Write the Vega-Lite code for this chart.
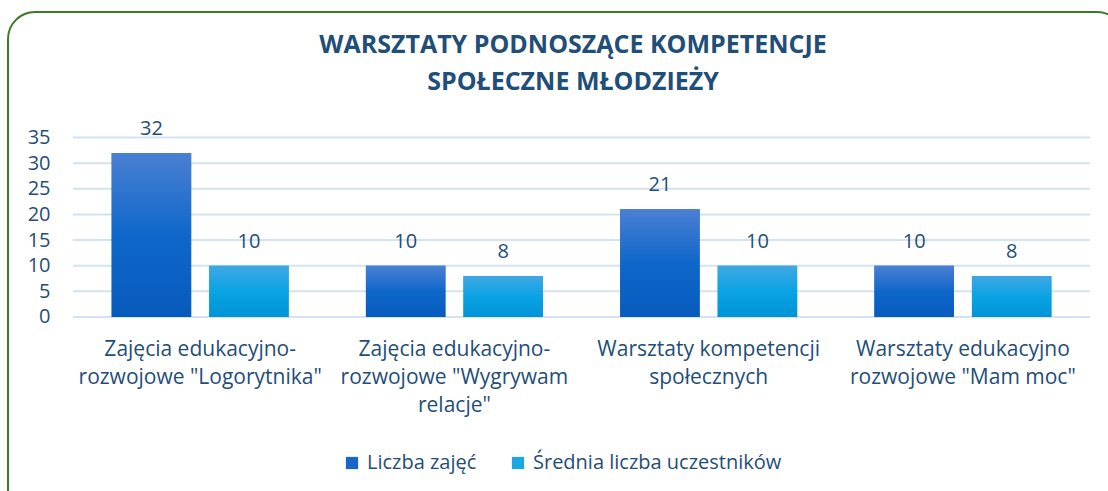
{
  "$schema": "https://vega.github.io/schema/vega-lite/v6.json",
  "autosize": {"type": "none"},
  "padding": {"left": 8, "top": 12, "right": -16, "bottom": -30},
  "width": 1116,
  "height": 509,
  "background": "white",
  "config": {
    "view": {"stroke": "#3b7a24", "strokeWidth": 2, "cornerRadius": 27, "fill": "white"},
    "font": "Open Sans",
    "axis": {"labelFont": "Open Sans", "labelColor": "#1f4e79", "labelFontSize": 20, "domain": false, "ticks": false, "tickSize": 0, "grid": false}
  },
  "title": {
    "text": ["WARSZTATY PODNOSZĄCE KOMPETENCJE", "SPOŁECZNE MŁODZIEŻY"],
    "fontSize": 25,
    "fontWeight": "bold",
    "color": "#1f4e79",
    "font": "Open Sans",
    "lineHeight": 37,
    "anchor": "middle",
    "offset": -103,
    "baseline": "alphabetic",
    "dx": 7
  },
  "datasets": {
    "bars": [
      {"cat": "Zajęcia edukacyjno-rozwojowe \"Logorytnika\"", "series": "Liczba zajęć", "value": 32},
      {"cat": "Zajęcia edukacyjno-rozwojowe \"Logorytnika\"", "series": "Średnia liczba uczestników", "value": 10},
      {"cat": "Zajęcia edukacyjno-rozwojowe \"Wygrywam relacje\"", "series": "Liczba zajęć", "value": 10},
      {"cat": "Zajęcia edukacyjno-rozwojowe \"Wygrywam relacje\"", "series": "Średnia liczba uczestników", "value": 8},
      {"cat": "Warsztaty kompetencji społecznych", "series": "Liczba zajęć", "value": 21},
      {"cat": "Warsztaty kompetencji społecznych", "series": "Średnia liczba uczestników", "value": 10},
      {"cat": "Warsztaty edukacyjno rozwojowe \"Mam moc\"", "series": "Liczba zajęć", "value": 10},
      {"cat": "Warsztaty edukacyjno rozwojowe \"Mam moc\"", "series": "Średnia liczba uczestników", "value": 8}
    ],
    "grid": [
      {"v": 0}, {"v": 5}, {"v": 10}, {"v": 15}, {"v": 20}, {"v": 25}, {"v": 30}, {"v": 35}
    ]
  },
  "layer": [
    {
      "data": {"name": "grid"},
      "mark": {"type": "rule", "stroke": "#d3e2f4", "strokeWidth": 2},
      "encoding": {
        "x": {
          "datum": "Zajęcia edukacyjno-rozwojowe \"Logorytnika\"",
          "type": "nominal",
          "bandPosition": 0,
          "scale": {
            "domain": ["Zajęcia edukacyjno-rozwojowe \"Logorytnika\"", "Zajęcia edukacyjno-rozwojowe \"Wygrywam relacje\"", "Warsztaty kompetencji społecznych", "Warsztaty edukacyjno rozwojowe \"Mam moc\""],
            "paddingInner": 0,
            "paddingOuter": 0.1947,
            "align": 0.657
          },
          "axis": {
            "title": null,
            "orient": "bottom",
            "offset": -204,
            "labelPadding": 21,
            "labelFontSize": 21,
            "labelAngle": 0,
            "labelBaseline": "top",
            "labelLineHeight": 28,
            "labelLimit": 400,
            "labelExpr": "datum.label == 'Zajęcia edukacyjno-rozwojowe \"Logorytnika\"' ? ['Zajęcia edukacyjno-', 'rozwojowe \"Logorytnika\"'] : datum.label == 'Zajęcia edukacyjno-rozwojowe \"Wygrywam relacje\"' ? ['Zajęcia edukacyjno-', 'rozwojowe \"Wygrywam', 'relacje\"'] : datum.label == 'Warsztaty kompetencji społecznych' ? ['Warsztaty kompetencji', 'społecznych'] : ['Warsztaty edukacyjno', 'rozwojowe \"Mam moc\"']"
          }
        },
        "x2": {"datum": "Warsztaty edukacyjno rozwojowe \"Mam moc\"", "bandPosition": 1},
        "y": {
          "field": "v",
          "type": "quantitative",
          "scale": {"domain": [-39.78, 59.47], "nice": false, "zero": false},
          "axis": {"title": null, "values": [0, 5, 10, 15, 20, 25, 30, 35], "offset": -44, "labelPadding": 2}
        }
      }
    },
    {
      "data": {"name": "bars"},
      "mark": {"type": "bar"},
      "encoding": {
        "x": {"field": "cat", "type": "nominal", "sort": null, "axis": {"title": null}},
        "xOffset": {"field": "series", "type": "nominal", "scale": {"paddingInner": 0.1846, "paddingOuter": 0.396}},
        "y": {"field": "value", "type": "quantitative", "axis": {"title": null}},
        "color": {
          "field": "series",
          "type": "nominal",
          "scale": {"domain": ["Liczba zajęć", "Średnia liczba uczestników"], "range": ["#1a66c8", "#1ca6e2"]},
          "legend": {
            "orient": "none",
            "legendX": 334,
            "legendY": 441,
            "direction": "horizontal",
            "title": null,
            "symbolType": "square",
            "symbolSize": 150,
            "symbolStrokeWidth": 0,
            "symbolOpacity": 1,
            "labelFontSize": 20,
            "labelColor": "#1f4e79",
            "labelFont": "Open Sans",
            "labelLimit": 400,
            "columnPadding": 31,
            "labelOffset": 5
          }
        }
      }
    },
    {
      "data": {"name": "bars"},
      "mark": {"type": "bar"},
      "encoding": {
        "x": {"field": "cat", "type": "nominal", "axis": {"title": null}},
        "xOffset": {"field": "series", "type": "nominal"},
        "y": {"field": "value", "type": "quantitative", "axis": {"title": null}},
        "fill": {
          "condition": {
            "test": "datum.series === 'Liczba zajęć'",
            "value": {"gradient": "linear", "x1": 0, "y1": 0, "x2": 0, "y2": 1, "stops": [{"offset": 0, "color": "#4b80d3"}, {"offset": 0.5, "color": "#0f67ca"}, {"offset": 1, "color": "#075bbd"}]}
          },
          "value": {"gradient": "linear", "x1": 0, "y1": 0, "x2": 0, "y2": 1, "stops": [{"offset": 0, "color": "#40a8e3"}, {"offset": 0.5, "color": "#0aa3e4"}, {"offset": 1, "color": "#0094d6"}]}
        }
      }
    },
    {
      "data": {"name": "bars"},
      "mark": {"type": "text", "fontSize": 20, "color": "#1f4e79", "font": "Open Sans", "baseline": "alphabetic", "dy": -18},
      "encoding": {
        "x": {"field": "cat", "type": "nominal", "axis": {"title": null}},
        "xOffset": {"field": "series", "type": "nominal"},
        "y": {"field": "value", "type": "quantitative", "axis": {"title": null}},
        "text": {"field": "value", "type": "quantitative"}
      }
    }
  ]
}
